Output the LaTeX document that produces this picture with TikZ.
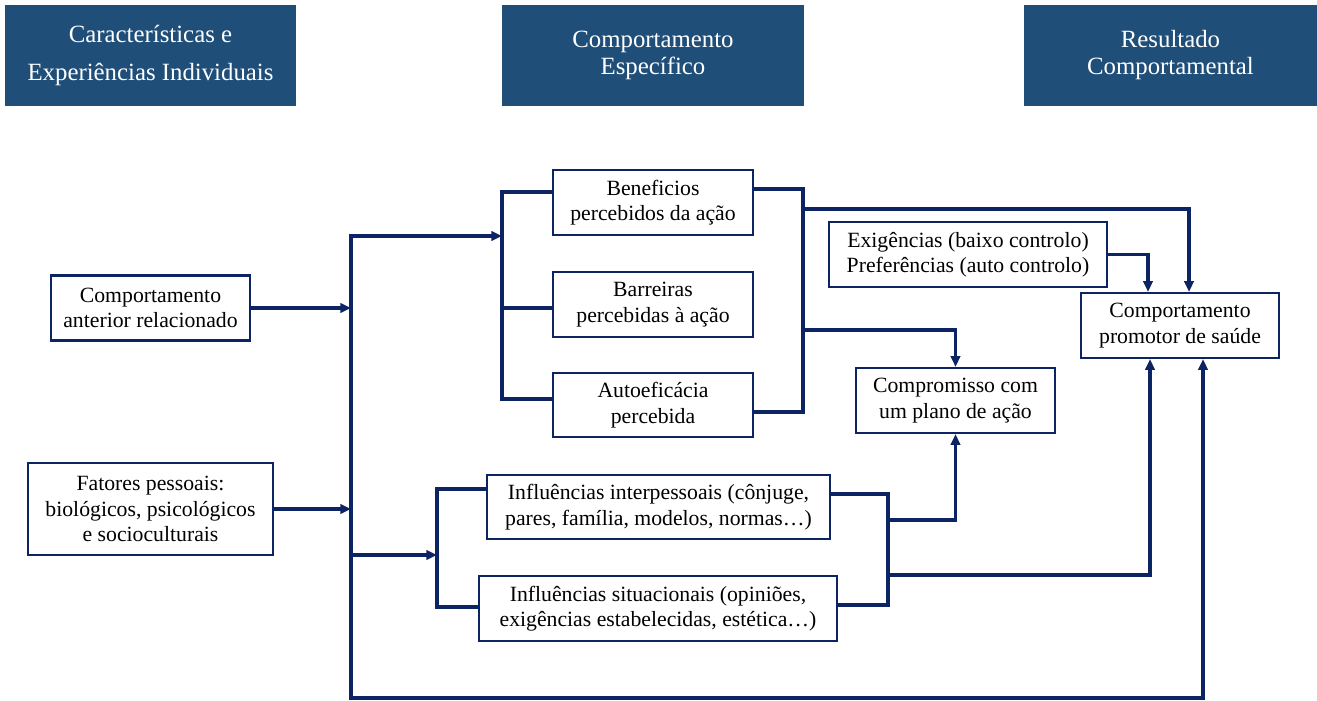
\documentclass[tikz,border=0pt]{standalone}
\usepackage{fontspec}
\setmainfont{Liberation Serif}
\newfontfamily\tnr{Liberation Serif}
\usetikzlibrary{arrows.meta,calc}
\definecolor{navy}{RGB}{12,35,100}
\definecolor{hdrblue}{RGB}{31,78,121}
\begin{document}
\begin{tikzpicture}[x=0.75pt,y=-0.75pt,
  hdr/.style={fill=hdrblue,draw=none,text=white,inner sep=0pt,align=center,
    font=\tnr\fontsize{18.6pt}{20.25pt}\selectfont},
  box/.style={draw=navy,line width=1.7pt,fill=white,inner sep=0pt,align=center,
    font=\tnr\fontsize{16.3pt}{19.1pt}\selectfont,minimum height=48.75pt},
  conn/.style={draw=navy,line width=2.5pt,line join=miter},
  arrow/.style={conn,-{Triangle[length=8pt,width=7pt]}},
  darrow/.style={conn,{Triangle[length=8pt,width=7pt]}-{Triangle[length=8pt,width=7pt]}}]
\useasboundingbox (0,0) rectangle (1317,700);
% headers
\node[hdr,minimum width=218.25pt,minimum height=75.75pt,font=\tnr\fontsize{18.6pt}{28.5pt}\selectfont] (h1) at (150.5,55.5) {Características e\\Experiências Individuais};
\node[hdr,minimum width=226.5pt,minimum height=75.75pt] (h2) at (653,55.5) {Comportamento\\Específico};
\node[hdr,minimum width=219.75pt,minimum height=75.75pt] (h3) at (1170.5,55.5) {Resultado\\Comportamental};
% boxes
\node[box,minimum width=149.25pt] (A) at (150.5,308) {Comportamento\\anterior relacionado};
\node[box,minimum width=183.75pt,minimum height=69pt] (B) at (150.5,509) {Fatores pessoais:\\biológicos, psicológicos\\e socioculturais};
\node[box,minimum width=150pt] (C) at (653,202.5) {Beneficios\\percebidos da ação};
\node[box,minimum width=150pt] (D) at (653,304.5) {Barreiras\\percebidas à ação};
\node[box,minimum width=150pt,minimum height=48pt] (E) at (653,405) {Autoeficácia\\percebida};
\node[box,minimum width=208.5pt] (F) at (968,254.5) {Exigências (baixo controlo)\\Preferências (auto controlo)};
\node[box,minimum width=148.5pt] (G) at (1180,325.5) {Comportamento\\promotor de saúde};
\node[box,minimum width=149.25pt] (H) at (955.5,400.5) {Compromisso com\\um plano de ação};
\node[box,minimum width=257.25pt,minimum height=48pt] (I) at (658.5,507) {Influências interpessoais (cônjuge,\\pares, família, modelos, normas…)};
\node[box,minimum width=268.5pt] (J) at (658,608.5) {Influências situacionais (opiniões,\\exigências estabelecidas, estética…)};
% junction coordinates
\coordinate (mvTop) at (351,236);
\coordinate (mvBot) at (351,698);
\coordinate (mv) at (351,0);
\coordinate (mvI) at (351,555);
\coordinate (b1) at (502,236);
\coordinate (b1a) at (502,192);
\coordinate (b1b) at (502,308);
\coordinate (b1c) at (502,399);
\coordinate (r1a) at (803,189);
\coordinate (r1c) at (803,412);
\coordinate (r1g) at (803,209);
\coordinate (r1h) at (803,330);
\coordinate (b2a) at (437,489);
\coordinate (b2m) at (437,555);
\coordinate (b2c) at (437,607);
\coordinate (r2a) at (888,494);
\coordinate (r2c) at (888,605);
\coordinate (r2h) at (888,520);
\coordinate (r2g) at (888,575);
\coordinate (gT1) at (1148,0);
\coordinate (gT2) at (1189,0);
\coordinate (gB1) at (1150,0);
\coordinate (gB2) at (1203,0);
% connectors
\draw[arrow] (A.east) -- (A.east -| mv);
\draw[arrow] (B.east) -- (B.east -| mv);
\draw[darrow] (b1) -- (mvTop) -- (mvBot) -| (G.south -| gB2);
\draw[conn] (b1a -| C.west) -- (b1a) -- (b1c) -- (b1c -| E.west);
\draw[conn] (b1b) -- (b1b -| D.west);
\draw[conn] (r1a -| C.east) -- (r1a) -- (r1c) -- (r1c -| E.east);
\draw[arrow] (r1g) -| (G.north -| gT2);
\draw[arrow] (r1h) -| (H.north);
\draw[arrow] (F.east) -| (G.north -| gT1);
\draw[arrow] (mvI) -- (b2m);
\draw[conn] (b2a -| I.west) -- (b2a) -- (b2c) -- (b2c -| J.west);
\draw[conn] (r2a -| I.east) -- (r2a) -- (r2c) -- (r2c -| J.east);
\draw[arrow] (r2h) -| (H.south);
\draw[arrow] (r2g) -| (G.south -| gB1);
\end{tikzpicture}
\end{document}
